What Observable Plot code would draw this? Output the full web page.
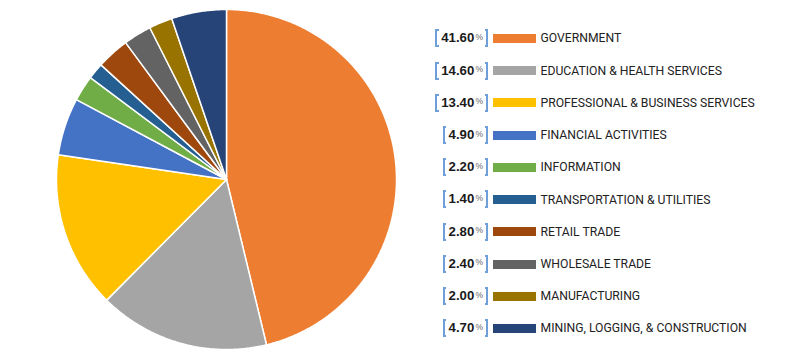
<!DOCTYPE html>
<html>
<head>
<meta charset="utf-8">
<script src="https://cdn.jsdelivr.net/npm/d3@7"></script>
<script src="https://cdn.jsdelivr.net/npm/@observablehq/plot@0.6"></script>
<style>
  html, body { margin: 0; padding: 0; background: #fff; }
  #wrap { position: relative; width: 800px; height: 358px; overflow: hidden; }
  #wrap svg { position: absolute; left: 0; top: 0; }
  .row { position: absolute; left: 0; width: 800px; height: 0; }
  .row > * { position: absolute; }
  .grp { right: 312px; display: flex; align-items: flex-start; height: 18px; }
  .br { width: 1.5px; height: 14px; border: 2px solid #6f9fd8; border-width: 2px 2.5px; flex: none; }
  .brl { border-right: none; }
  .brr { border-left: none; margin-left: 1.5px; }
  .val { margin-left: 2.5px; margin-top: 2px; font: bold 13.2px "Liberation Sans", Arial, sans-serif; color: #1a1a1a; line-height: 13px; }
  .pct { margin-left: 1.2px; margin-top: 3.6px; font: 8.5px "Liberation Sans", Arial, sans-serif; color: #666; line-height: 8px; }
  .sw { left: 493px; width: 43px; height: 9px; }
  .lab { left: 540.5px; font: 12.2px Roboto, "Liberation Sans", sans-serif; color: #222; line-height: 12px; white-space: nowrap; }
</style>
</head>
<body>
<div id="wrap"></div>
<script>
const categories = [
  "GOVERNMENT",
  "EDUCATION & HEALTH SERVICES",
  "PROFESSIONAL & BUSINESS SERVICES",
  "FINANCIAL ACTIVITIES",
  "INFORMATION",
  "TRANSPORTATION & UTILITIES",
  "RETAIL TRADE",
  "WHOLESALE TRADE",
  "MANUFACTURING",
  "MINING, LOGGING, & CONSTRUCTION"
];
const shares = [41.6, 14.6, 13.4, 4.9, 2.2, 1.4, 2.8, 2.4, 2.0, 4.7];
const colors = ["#ED7D31", "#A5A5A5", "#FFC000", "#4472C4", "#70AD47", "#255E91", "#9E480E", "#636363", "#997300", "#264478"];

const rows = categories.map((name, i) => ({name, value: shares[i]}));
const arcs = d3.pie().sort(null).value(d => d.value)(rows);

// slice outlines: centre + arc samples
const pts = [];
for (const a of arcs) {
  const name = a.data.name;
  pts.push({name, x: 0, y: 0});
  const n = Math.max(2, Math.ceil((a.endAngle - a.startAngle) / (Math.PI / 360)));
  for (let k = 0; k <= n; k++) {
    const t = a.startAngle + (a.endAngle - a.startAngle) * k / n;
    pts.push({name, x: Math.sin(t), y: Math.cos(t)});
  }
  pts.push({name, x: 0, y: 0});
}

const cx = 226, cy = 179, R = 170;
const chart = Plot.plot({
  width: 800,
  height: 358,
  margin: 0,
  x: {domain: [-1, 1], range: [cx - R, cx + R], axis: null},
  y: {domain: [-1, 1], range: [cy + R, cy - R], axis: null},
  color: {domain: categories, range: colors},
  marks: [
    Plot.line(pts, {x: "x", y: "y", z: "name", fill: "name", stroke: "white", strokeWidth: 1.5, strokeLinejoin: "miter"})
  ]
});
const wrap = document.getElementById("wrap");
wrap.appendChild(chart);

// legend
rows.forEach((d, i) => {
  const c = 39 + 32.22 * i;
  const row = document.createElement("div");
  row.className = "row";
  row.style.top = c + "px";
  row.innerHTML =
    `<div class="grp" style="top:-9.7px">` +
      `<div class="br brl"></div>` +
      `<div class="val">${d.value.toFixed(2)}</div>` +
      `<div class="pct">%</div>` +
      `<div class="br brr"></div>` +
    `</div>` +
    `<div class="sw" style="top:-5px;background:${colors[i]}"></div>` +
    `<div class="lab" style="top:-6.6px">${d.name}</div>`;
  wrap.appendChild(row);
});
</script>
</body>
</html>
